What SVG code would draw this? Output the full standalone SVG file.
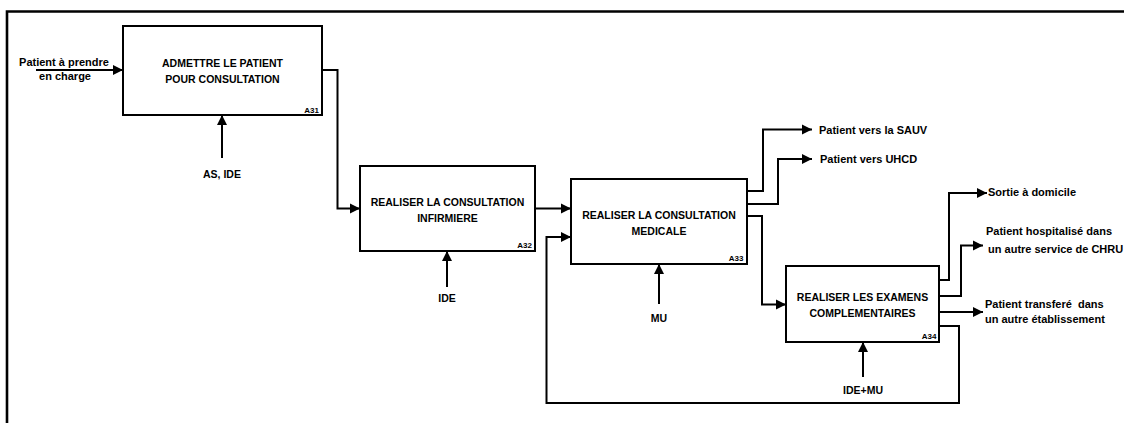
<svg xmlns="http://www.w3.org/2000/svg" width="1124" height="423" viewBox="0 0 1124 423">
<style>
.box{fill:#fff;stroke:#000;stroke-width:2}
.t{font-family:"Liberation Sans",Arial,sans-serif;font-weight:bold;font-size:10.5px;fill:#000}
.c{text-anchor:middle}
.id{font-family:"Liberation Sans",Arial,sans-serif;font-weight:bold;font-size:8px;text-anchor:end;fill:#000}
.l{font-family:"Liberation Sans",Arial,sans-serif;font-weight:bold;font-size:11px;fill:#000}
.ln{fill:none;stroke:#000;stroke-width:2;marker-end:url(#ah)}
</style>
<defs>
<marker id="ah" markerUnits="userSpaceOnUse" markerWidth="11" markerHeight="11" refX="10" refY="5.5" orient="auto">
<path d="M0,0.5 L10,5.5 L0,10.5 z" fill="#000"/>
</marker>
</defs>
<rect width="1124" height="423" fill="#fff"/>
<path d="M7,423 V11.5 H1124" fill="none" stroke="#000" stroke-width="2.6"/>

<g id="A31">
<rect class="box" x="123" y="26" width="199" height="89"/>
<text class="t c" x="222.5" y="66.5">ADMETTRE LE PATIENT</text>
<text class="t c" x="222.5" y="82.5">POUR CONSULTATION</text>
<text class="id" x="319" y="112.5">A31</text>
</g>
<g id="A32">
<rect class="box" x="360" y="166" width="175" height="85"/>
<text class="t c" x="447.5" y="205.5">REALISER LA CONSULTATION</text>
<text class="t c" x="447.5" y="221.5">INFIRMIERE</text>
<text class="id" x="532" y="248">A32</text>
</g>
<g id="A33">
<rect class="box" x="571" y="179" width="176" height="85"/>
<text class="t c" x="659" y="219">REALISER LA CONSULTATION</text>
<text class="t c" x="659" y="235">MEDICALE</text>
<text class="id" x="743.5" y="261">A33</text>
</g>
<g id="A34">
<rect class="box" x="786" y="266" width="153" height="76"/>
<text class="t c" x="862.5" y="300.5">REALISER LES EXAMENS</text>
<text class="t c" x="862.5" y="316.5">COMPLEMENTAIRES</text>
<text class="id" x="936.5" y="338.5">A34</text>
</g>

<g id="connectors">
<path class="ln" d="M36,70 H123"/>
<path class="ln" d="M222,158 V115"/>
<path class="ln" d="M322,70 H337.5 V208.5 H360"/>
<path class="ln" d="M447,287 V251"/>
<path class="ln" d="M535,208.5 H571"/>
<path class="ln" d="M659,304 V264"/>
<path class="ln" d="M747,191 H763 V129.5 H812"/>
<path class="ln" d="M747,204 H778 V159 H812"/>
<path class="ln" d="M747,216 H762 V304.5 H786"/>
<path class="ln" d="M863,377 V342"/>
<path class="ln" d="M939,280 H949 V193 H987"/>
<path class="ln" d="M939,296 H961 V245.5 H983"/>
<path class="ln" d="M939,312 H983"/>
<path class="ln" d="M939,326 H959 V403 H546.5 V237 H571"/>
</g>

<g id="labels">
<text class="l c" x="64" y="66">Patient à prendre</text>
<text class="l c" x="65" y="80">en charge</text>
<text class="t c" x="222" y="178">AS, IDE</text>
<text class="t c" x="447" y="301.5">IDE</text>
<text class="t c" x="659" y="322">MU</text>
<text class="t c" x="863" y="394">IDE+MU</text>
<text class="l" x="819" y="134">Patient vers la SAUV</text>
<text class="l" x="820" y="162.5">Patient vers UHCD</text>
<text class="l" x="988" y="195.5">Sortie à domicile</text>
<text class="l" x="986" y="235" textLength="126" lengthAdjust="spacing">Patient hospitalisé dans</text>
<text class="l" x="985" y="252.5" xml:space="preserve"> un autre service de CHRU</text>
<text class="l" x="985" y="308" xml:space="preserve">Patient transferé  dans</text>
<text class="l" x="985" y="323">un autre établissement</text>
</g>
</svg>
